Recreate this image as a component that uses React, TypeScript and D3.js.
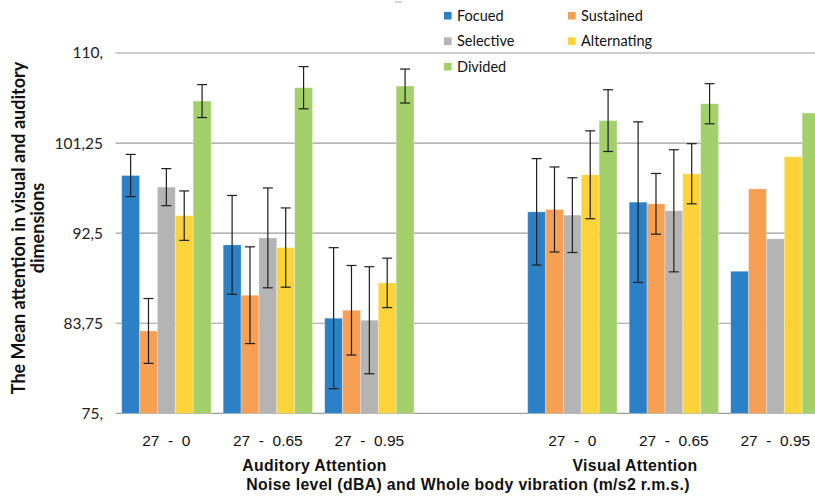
import React from "react";
import * as d3 from "d3";

const categories = ["aud-0", "aud-0.65", "aud-0.95", "blank", "vis-0", "vis-0.65", "vis-0.95"];
const dataCategories = ["aud-0", "aud-0.65", "aud-0.95", "vis-0", "vis-0.65", "vis-0.95"];
const categoryLabels = ["27  -  0", "27  -  0.65", "27  -  0.95", "27  -  0", "27  -  0.65", "27  -  0.95"];

const seriesNames = ["Focued", "Sustained", "Selective", "Alternating", "Divided"];
const seriesColors = ["#2b80c6", "#f79f53", "#b3b4b3", "#fcd43a", "#a4d06b"];

const focused = [98.1, 91.36, 84.24, 94.57, 95.51, 88.8];
const sustained = [83.0, 86.47, 85.01, 94.8, 95.35, 96.8];
const selective = [96.97, 92.04, 84.04, 94.25, 94.67, 91.95];
const alternating = [94.2, 91.1, 87.67, 98.17, 98.27, 99.92];
const divided = [105.33, 106.63, 106.79, 103.43, 105.07, 104.17];

const focusedErr = [2.05, 4.8, 6.85, 5.17, 7.8, null];
const sustainedErr = [3.15, 4.7, 4.35, 4.13, 2.95, null];
const selectiveErr = [1.8, 4.85, 5.2, 3.63, 5.93, null];
const alternatingErr = [2.4, 3.85, 2.4, 4.27, 2.92, null];
const dividedErr = [1.6, 2.05, 1.65, 3.0, 1.95, null];

const yTicks = [75, 83.75, 92.5, 101.25, 110];
const yTickLabels = ["75,", "83,75", "92,5", "101,25", "110,"];

const values = [focused, sustained, selective, alternating, divided];
const errors = [focusedErr, sustainedErr, selectiveErr, alternatingErr, dividedErr];

const width = 815;
const height = 499;

export default function App() {
  const x = d3
    .scaleBand<string>()
    .domain(categories)
    .range([115.6, 826.1])
    .paddingInner(0.12)
    .paddingOuter(0.06);
  const xs = d3
    .scaleBand<string>()
    .domain(seriesNames)
    .range([0, x.bandwidth()]);
  const y = d3.scaleLinear().domain([75, 110]).range([413.3, 53]);

  const capW = 5;

  return (
    <div style={{ position: "fixed", left: 0, top: 0 }}>
      <svg width={width} height={height} style={{ display: "block", background: "#fff" }}>
        {/* grid */}
        <g>
          {yTicks.map((t, i) => (
            <g key={t}>
              <line x1={x.range()[0]} x2={x.range()[1]} y1={y(t)} y2={y(t)} stroke="#9d9d9d" strokeWidth={1.2} />
              <text
                x={103}
                y={y(t)}
                dy="0.35em"
                textAnchor="end"
                fontFamily="Lato"
                fontSize={15.5}
                fill="#222"
              >
                {yTickLabels[i]}
              </text>
            </g>
          ))}
        </g>
        <line x1={395} x2={402} y1={2} y2={2} stroke="#aaa" strokeWidth={1} />

        {/* bars */}
        {seriesNames.map((s, si) => (
          <g key={s}>
            {dataCategories.map((c, ci) => {
              const v = values[si][ci];
              const bx = (x(c) as number) + (xs(s) as number);
              return (
                <rect
                  key={c}
                  x={bx}
                  y={y(v)}
                  width={xs.bandwidth()}
                  height={y(75) - y(v)}
                  fill={seriesColors[si]}
                  stroke="#ffffff"
                  strokeOpacity={0.35}
                  strokeWidth={0.8}
                />
              );
            })}
          </g>
        ))}

        {/* error bars */}
        {seriesNames.map((s, si) => (
          <g key={s} stroke="#1e1e1e" strokeWidth={1.2}>
            {dataCategories.map((c, ci) => {
              const e = errors[si][ci];
              if (e == null) return null;
              const v = values[si][ci];
              const cx = (x(c) as number) + (xs(s) as number) + xs.bandwidth() / 2;
              return (
                <g key={c}>
                  <line x1={cx} x2={cx} y1={y(v + e)} y2={y(v - e)} />
                  <line x1={cx - capW} x2={cx + capW} y1={y(v + e)} y2={y(v + e)} />
                  <line x1={cx - capW} x2={cx + capW} y1={y(v - e)} y2={y(v - e)} />
                </g>
              );
            })}
          </g>
        ))}

        {/* x labels */}
        {dataCategories.map((c, ci) => (
          <text
            key={c}
            x={(x(c) as number) + x.bandwidth() / 2}
            y={446}
            textAnchor="middle"
            fontFamily="Liberation Sans, Arial, sans-serif"
            fontSize={15.5}
            fill="#111"
            style={{ whiteSpace: "pre" }}
          >
            {categoryLabels[ci]}
          </text>
        ))}

        <g
          fontFamily="Liberation Sans, Arial, sans-serif"
          fontWeight="bold"
          fontSize={15.8}
          letterSpacing={0.35}
          fill="#111"
          textAnchor="middle"
        >
          <text x={314.5} y={470.5}>Auditory Attention</text>
          <text x={635} y={470.5}>Visual Attention</text>
          <text x={468} y={489.5}>Noise level (dBA) and Whole body vibration (m/s2 r.m.s.)</text>
        </g>

        {/* y title */}
        <g transform="translate(0,228) rotate(-90)" fontFamily="Lato" fontWeight="bold" fontSize={18} fill="#111" textAnchor="middle">
          <text x={0} y={25}>The Mean attention in visual and auditory</text>
          <text x={0} y={44}>dimensions</text>
        </g>

        {/* legend */}
        <g fontFamily="Lato" fontSize={14.5} fill="#111">
          {seriesNames.map((s, i) => {
            const lx = 444 + (i % 2) * 124;
            const ly = 15.7 + Math.floor(i / 2) * 25.5;
            return (
              <g key={s}>
                <rect x={lx} y={ly - 3.8} width={7.6} height={7.6} fill={seriesColors[i]} />
                <text x={lx + 13} y={ly} dy="0.35em">
                  {s}
                </text>
              </g>
            );
          })}
        </g>
      </svg>
    </div>
  );
}
